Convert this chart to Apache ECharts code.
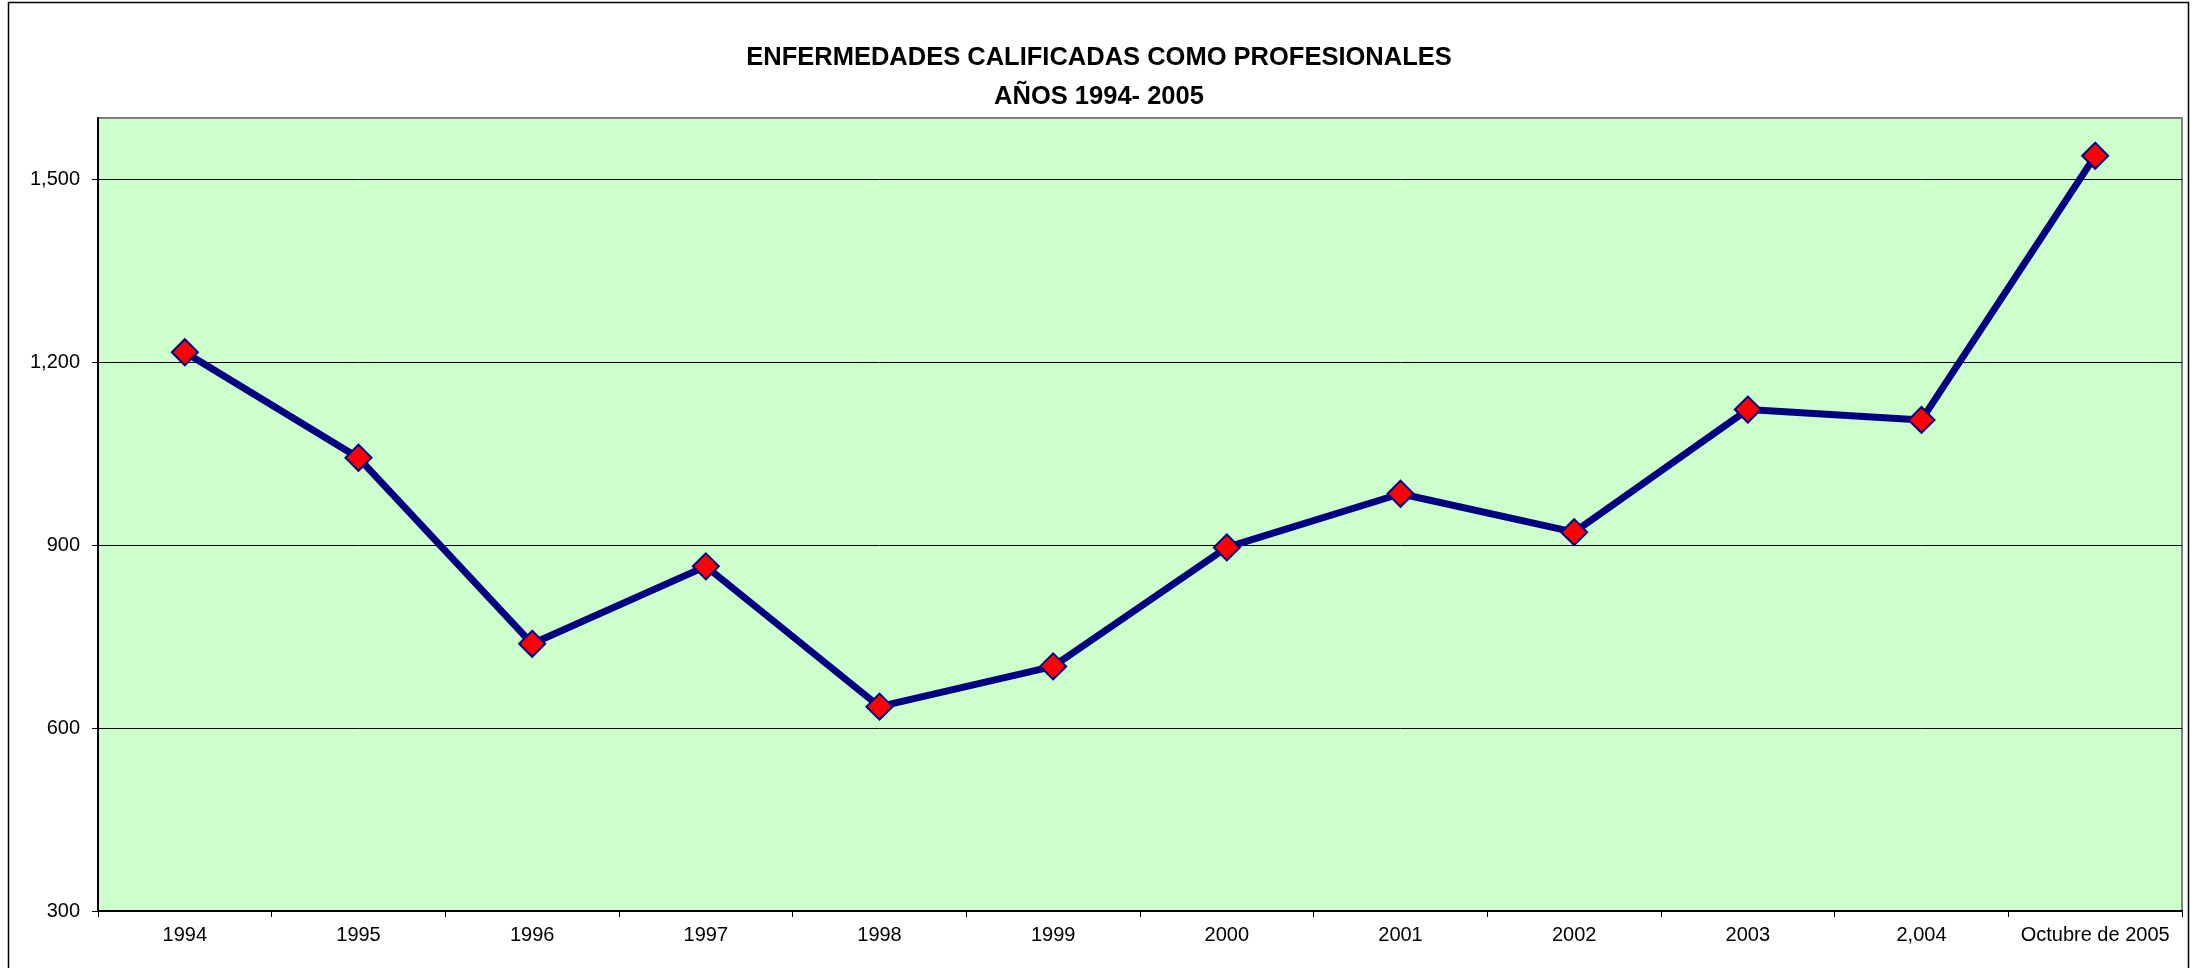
<!DOCTYPE html>
<html>
<head>
<meta charset="utf-8">
<script src="https://cdn.jsdelivr.net/npm/echarts@6/dist/echarts.min.js"></script>
<style>
html,body{margin:0;padding:0;background:#fff;}
#chart{width:2198px;height:968px;}
</style>
</head>
<body>
<div id="chart"></div>
<script>
const titleLines = ['ENFERMEDADES CALIFICADAS COMO PROFESIONALES', 'AÑOS 1994- 2005'];
const categories = ['1994','1995','1996','1997','1998','1999','2000','2001','2002','2003','2,004','Octubre de 2005'];
const values = [1216, 1043, 738, 865, 635, 701, 896, 984, 921, 1122, 1105, 1538];
const yTicks = [300, 600, 900, 1200, 1500];

const chart = echarts.init(document.getElementById('chart'));
const FONT = '"Liberation Sans", Arial, sans-serif';
chart.setOption({
  animation: false,
  backgroundColor: '#ffffff',
  graphic: [{
    type: 'rect',
    shape: {x: 8.5, y: 2.5, width: 2180, height: 1000},
    style: {fill: 'none', stroke: '#000', lineWidth: 1.5},
    silent: true
  }],
  title: {
    text: titleLines.join('\n'),
    left: 'center',
    top: 33,
    textStyle: {fontFamily: FONT, fontWeight: 'bold', fontSize: 25.5, lineHeight: 39, color: '#000'}
  },
  grid: {
    left: 98, right: 16, top: 118, bottom: 57,
    show: true, backgroundColor: '#CCFFCC', borderColor: '#808080', borderWidth: 2
  },
  xAxis: {
    type: 'category',
    data: categories,
    boundaryGap: true,
    axisLine: {lineStyle: {color: '#000', width: 2}},
    axisTick: {show: true, length: 6, lineStyle: {color: '#000', width: 1}},
    axisLabel: {fontFamily: FONT, fontSize: 20, color: '#000', margin: 14, interval: 0},
    splitLine: {show: false}
  },
  yAxis: {
    type: 'value',
    min: 300, max: 1600, interval: 300,
    axisLine: {show: true, lineStyle: {color: '#000', width: 2}},
    axisTick: {show: true, length: 6, customValues: yTicks, lineStyle: {color: '#000', width: 1}},
    axisLabel: {
      fontFamily: FONT, fontSize: 20, color: '#000', margin: 18,
      customValues: yTicks,
      formatter: v => v.toLocaleString('en-US')
    },
    splitLine: {show: true, lineStyle: {color: '#000', width: 1}}
  },
  series: [{
    type: 'line',
    data: values,
    symbol: 'diamond',
    symbolSize: 26,
    lineStyle: {color: '#000080', width: 7},
    itemStyle: {color: '#FF0000', borderColor: '#000080', borderWidth: 2},
    z: 5
  }]
});
</script>
</body>
</html>
